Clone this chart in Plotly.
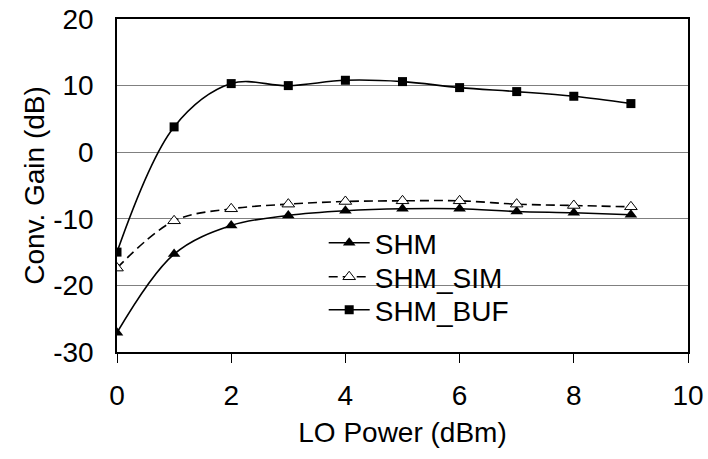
import plotly.graph_objects as go

# LO drive sweep (dBm)
lo_power = [0, 1, 2, 3, 4, 5, 6, 7, 8, 9]

# Conversion gain (dB) per mixer variant
shm = [-27.1, -15.3, -11.0, -9.5, -8.8, -8.5, -8.5, -8.9, -9.1, -9.4]
shm_sim = [-17.4, -10.3, -8.5, -7.8, -7.4, -7.3, -7.3, -7.8, -8.0, -8.2]
shm_buf = [-15.0, 3.8, 10.3, 10.0, 10.8, 10.6, 9.7, 9.1, 8.4, 7.3]

x_ticks = [0, 2, 4, 6, 8, 10]
y_ticks = [-30, -20, -10, 0, 10, 20]

FONT = "Liberation Sans, Arial, sans-serif"
FS = 28

fig = go.Figure()

fig.add_trace(go.Scatter(
    x=lo_power, y=shm, name="SHM", mode="lines+markers", legend="legend",
    line=dict(color="black", width=1.6, shape="spline"),
    marker=dict(symbol="triangle-up", size=11, color="black"),
))
fig.add_trace(go.Scatter(
    x=lo_power, y=shm_sim, name="SHM_SIM", mode="lines+markers", legend="legend2",
    line=dict(color="black", width=1.6, shape="spline", dash="9px,5px"),
    marker=dict(symbol="triangle-up", size=11, color="white",
                line=dict(color="black", width=1)),
))
fig.add_trace(go.Scatter(
    x=lo_power, y=shm_buf, name="SHM_BUF", mode="lines+markers", legend="legend3",
    line=dict(color="black", width=1.6, shape="spline"),
    marker=dict(symbol="square", size=9, color="black"),
))

# one legend box per series so the rows sit closer together
def legend_row(y):
    return dict(
        x=0.362, y=y, xanchor="left", yanchor="middle",
        bgcolor="rgba(0,0,0,0)", borderwidth=0,
        font=dict(family=FONT, size=FS, color="black"),
        itemwidth=41,
    )

# white panel behind the legend rows (hides the gridline there)
fig.add_shape(
    type="rect", xref="paper", yref="paper",
    x0=0.352, x1=0.718, y0=0.066, y1=0.381,
    fillcolor="white", line=dict(width=0), layer="between",
)

fig.update_layout(
    width=708, height=459,
    margin=dict(l=117, r=20, t=19, b=107, autoexpand=False),
    paper_bgcolor="white", plot_bgcolor="white",
    font=dict(family=FONT, size=FS, color="black"),
    showlegend=True,
    legend=legend_row(0.327),
    legend2=legend_row(0.225),
    legend3=legend_row(0.126),
    xaxis=dict(
        range=[0, 10], tickvals=x_ticks, ticktext=[str(v) for v in x_ticks],
        showgrid=False, zeroline=False, automargin=False,
        showline=True, linecolor="black", linewidth=1.5, mirror=True,
        ticks="outside", ticklen=9, tickwidth=1, tickcolor="black",
        ticklabelstandoff=9,
        tickfont=dict(family=FONT, size=FS),
        title=dict(text="LO Power (dBm)", font=dict(family=FONT, size=FS), standoff=12),
    ),
    yaxis=dict(
        range=[-30, 20], tickvals=y_ticks, ticktext=[str(v) for v in y_ticks],
        showgrid=True, gridcolor="#808080", gridwidth=1, zeroline=False,
        automargin=False,
        showline=True, linecolor="black", linewidth=1.5, mirror=True,
        ticks="", ticklabelstandoff=16,
        tickfont=dict(family=FONT, size=FS),
        title=dict(text="Conv. Gain (dB)", font=dict(family=FONT, size=FS), standoff=0),
    ),
)

fig.write_html("out.html")
